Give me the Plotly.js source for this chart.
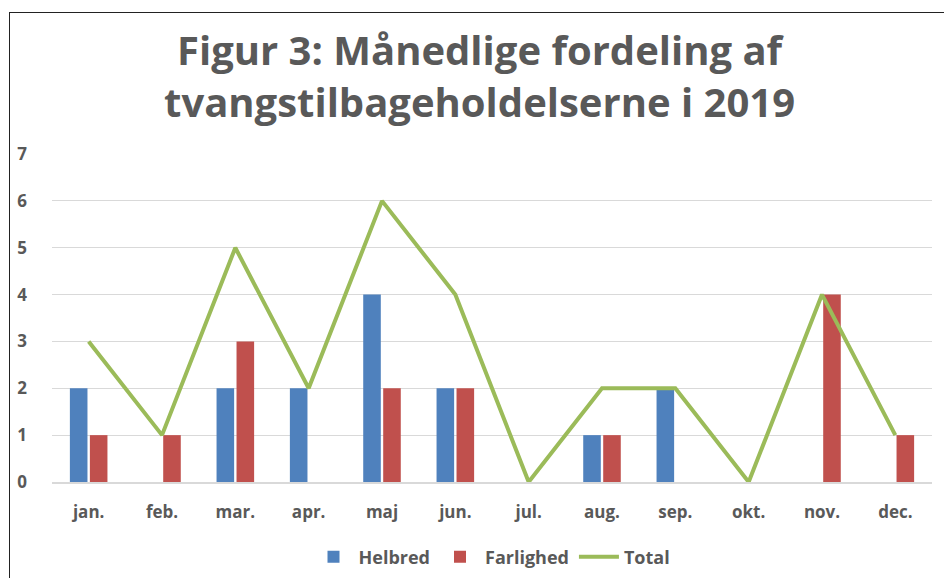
<!DOCTYPE html>
<html>
<head>
<meta charset="utf-8">
<script src="https://cdn.plot.ly/plotly-3.0.1.min.js"></script>
<style>
html,body{margin:0;padding:0;background:#fff;}
#chart{position:absolute;left:0;top:0;width:944px;height:578px;}
#frame{position:absolute;left:9px;top:12px;width:960px;height:600px;border-left:1.5px solid #222;border-top:1.5px solid #222;pointer-events:none;}
</style>
</head>
<body>
<div id="chart"></div>
<div id="frame"></div>
<script>
var months = ["jan.","feb.","mar.","apr.","maj","jun.","jul.","aug.","sep.","okt.","nov.","dec."];
var helbred = [2,0,2,2,4,2,0,1,2,0,0,0];
var farlighed = [1,1,3,0,2,2,0,1,0,0,4,1];
var total = [3,1,5,2,6,4,0,2,2,0,4,1];

var fontFam = "'Open Sans', Lato, sans-serif";
var grey = "#595959";

var traces = [
  {type:"bar", name:"Helbred", x:months, y:helbred, marker:{color:"#4F81BD"}, hoverinfo:"y"},
  {type:"bar", name:"Farlighed", x:months, y:farlighed, marker:{color:"#C0504D"}, hoverinfo:"y"},
  {type:"scatter", mode:"lines", name:"Total", x:months, y:total, line:{color:"#9BBB59", width:4}, hoverinfo:"y"}
];

var layout = {
  width:944, height:578,
  margin:{l:52, r:12, t:154, b:96, autoexpand:false},
  paper_bgcolor:"#fff", plot_bgcolor:"#fff",
  barmode:"group", bargap:0.455, bargroupgap:0.12,
  title:{text:"<b>Figur 3: Månedlige fordeling af<br>tvangstilbageholdelserne i 2019</b>",
         font:{family:fontFam, size:40, color:grey}, x:0.508, xanchor:"center", y:1-65/578, yref:"container", yanchor:"middle"},
  xaxis:{showgrid:false, showline:true, linecolor:"#d9d9d9", linewidth:1.5, ticks:"", ticklabelstandoff:14,
         tickfont:{family:fontFam, size:17, color:grey, weight:"bold"}, fixedrange:true},
  yaxis:{range:[0,7], dtick:1, showgrid:true, gridcolor:"#d9d9d9", gridwidth:1, zeroline:false, showline:false,
         ticks:"", ticklabelstandoff:24, tickfont:{family:fontFam, size:17, color:grey, weight:"bold"}, fixedrange:true},
  showlegend:true,
  legend:{orientation:"h", x:0.5, xanchor:"center", y:-(557-482)/328, yanchor:"middle",
          font:{family:fontFam, size:18, color:grey, weight:"bold"}, itemwidth:40, traceorder:"normal"},
  font:{family:fontFam}
};

Plotly.newPlot("chart", traces, layout, {displayModeBar:false, staticPlot:true});
</script>
</body>
</html>
